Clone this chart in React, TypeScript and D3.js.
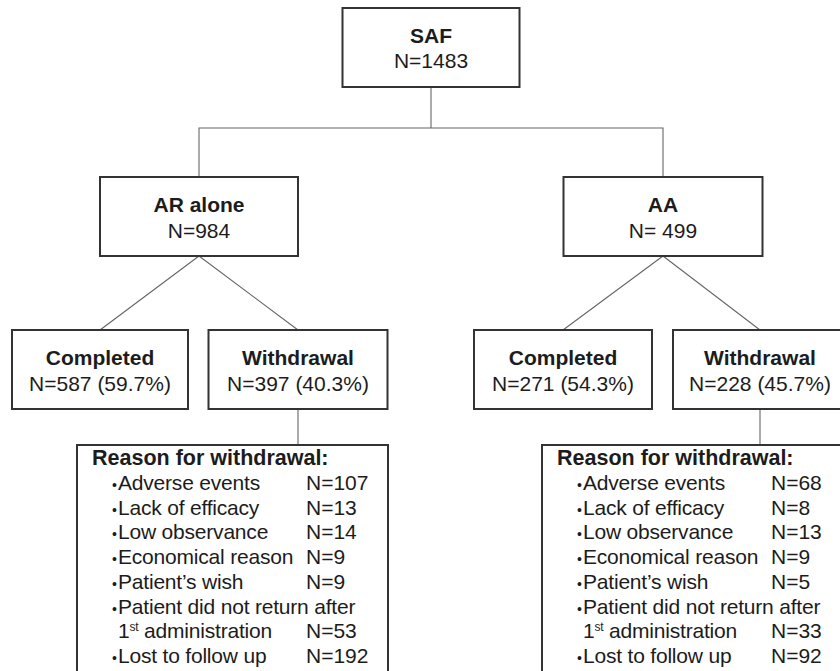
import React, { useEffect, useRef } from "react";
import * as d3 from "d3";

// flow data
const rootLabel = "SAF";
const rootN = "N=1483";
const groupLabels = ["AR alone", "AA"];
const groupN = ["N=984", "N= 499"];
const completedN = [587, 271];
const completedPct = [59.7, 54.3];
const withdrawalN = [397, 228];
const withdrawalPct = [40.3, 45.7];
const reasonLabels = [
  "Adverse events",
  "Lack of efficacy",
  "Low observance",
  "Economical reason",
  "Patient\u2019s wish",
  "Patient did not return after",
  "Lost to follow up",
];
const reasonAR = [107, 13, 14, 9, 9, 53, 192];
const reasonAA = [68, 8, 13, 9, 5, 33, 92];

const W = 840;
const H = 671;
const FONT = "'Liberation Sans', Arial, sans-serif";
const TXT = "#1c1c1c";

const App = () => {
  const ref = useRef<SVGSVGElement>(null);

  useEffect(() => {
    const svg = d3.select(ref.current);
    svg.selectAll("*").remove();

    const boxH = 79;
    const rows = { root: 8, group: 177, outcome: 330, reason: 445 };
    const rootBox = { cx: 431, w: 177 };
    const groupBoxes = [
      { cx: 199, w: 198 },
      { cx: 663, w: 199 },
    ];
    const outcomeBoxes = [
      [
        { cx: 100, w: 176 },
        { cx: 298, w: 179 },
      ],
      [
        { cx: 563, w: 178 },
        { cx: 760, w: 174 },
      ],
    ];
    const reasonBoxes = [
      { x: 77, w: 311 },
      { x: 542, w: 320 },
    ];
    const busY = 128;

    const lines = svg.append("g").attr("stroke", "#666").attr("stroke-width", 1.1).attr("fill", "none");
    const boxes = svg.append("g");
    const texts = svg.append("g").attr("font-family", FONT).attr("fill", TXT);

    const drawBox = (cx: number, y: number, w: number, title: string, sub: string, subDy = 61) => {
      boxes
        .append("rect")
        .attr("x", cx - w / 2)
        .attr("y", y)
        .attr("width", w)
        .attr("height", boxH)
        .attr("fill", "#fff")
        .attr("stroke", "#333")
        .attr("stroke-width", 2);
      texts
        .append("text")
        .attr("x", cx)
        .attr("y", y + 35)
        .attr("text-anchor", "middle")
        .attr("font-size", 21)
        .attr("font-weight", "bold")
        .text(title);
      texts
        .append("text")
        .attr("x", cx)
        .attr("y", y + subDy)
        .attr("text-anchor", "middle")
        .attr("font-size", 21)
        .text(sub);
    };

    // root
    drawBox(rootBox.cx, rows.root, rootBox.w, rootLabel, rootN, 60);
    lines
      .append("path")
      .attr("d", `M${rootBox.cx},${rows.root + boxH}V${busY}`);
    lines
      .append("path")
      .attr("d", `M${groupBoxes[0].cx},${rows.group}V${busY}H${groupBoxes[1].cx}V${rows.group}`);

    groupLabels.forEach((g, i) => {
      const gb = groupBoxes[i];
      drawBox(gb.cx, rows.group, gb.w, g, groupN[i]);
      const [cb, wb] = outcomeBoxes[i];
      lines
        .append("path")
        .attr("d", `M${cb.cx},${rows.outcome}L${gb.cx},${rows.group + boxH}L${wb.cx},${rows.outcome}`);
      drawBox(cb.cx, rows.outcome, cb.w, "Completed", `N=${completedN[i]} (${completedPct[i].toFixed(1)}%)`);
      drawBox(wb.cx, rows.outcome, wb.w, "Withdrawal", `N=${withdrawalN[i]} (${withdrawalPct[i].toFixed(1)}%)`);
      lines
        .append("path")
        .attr("d", `M${wb.cx},${rows.outcome + boxH}V${rows.reason}`);

      // reasons box
      const rb = reasonBoxes[i];
      const vals = i === 0 ? reasonAR : reasonAA;
      boxes
        .append("rect")
        .attr("x", rb.x)
        .attr("y", rows.reason)
        .attr("width", rb.w)
        .attr("height", 260)
        .attr("fill", "#fff")
        .attr("stroke", "#333")
        .attr("stroke-width", 2);

      const lineY = d3.scaleLinear().domain([0, 8]).range([rows.reason + 20, rows.reason + 218]);
      const tg = texts.append("g").attr("font-size", 21);
      tg.append("text")
        .attr("x", rb.x + 15)
        .attr("y", lineY(0))
        .attr("font-weight", "bold")
        .attr("font-size", 21.5)
        .text("Reason for withdrawal:");

      const colN = rb.x + 229;
      let line = 1;
      reasonLabels.forEach((r, k) => {
        tg.append("text")
          .attr("x", rb.x + 35)
          .attr("y", lineY(line))
          .attr("font-size", 14)
          .text("\u2022");
        tg.append("text")
          .attr("x", rb.x + 41)
          .attr("y", lineY(line))
          .attr("letter-spacing", -0.2)
          .text(r);
        if (k === 5) {
          line += 1;
          const t = tg
            .append("text")
            .attr("x", rb.x + 41)
            .attr("y", lineY(line))
            .attr("letter-spacing", -0.2);
          t.append("tspan").text("1");
          t.append("tspan").attr("font-size", 12).attr("dy", -7).text("st");
          t.append("tspan").attr("dy", 7).text(" administration");
        }
        tg.append("text")
          .attr("x", colN)
          .attr("y", lineY(line))
          .text(`N=${vals[k]}`);
        line += 1;
      });
    });
  }, []);

  return (
    <svg
      ref={ref}
      width={W}
      height={H}
      style={{ position: "absolute", left: 0, top: 0, background: "#fff" }}
    />
  );
};

export default App;
